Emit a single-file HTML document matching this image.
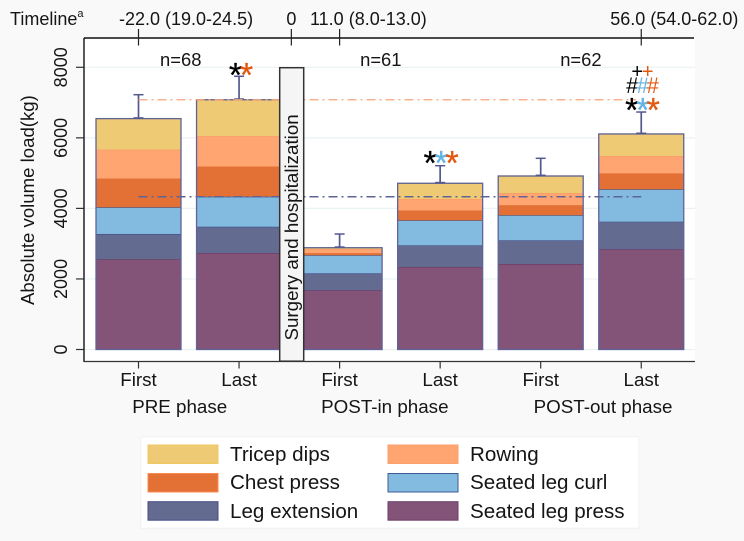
<!DOCTYPE html>
<html lang="en">
<head>
<meta charset="utf-8">
<title>Absolute volume load by phase</title>
<style>
html,body{margin:0;padding:0;background:#f9f9f9;}
svg{display:block;font-family:"Liberation Sans",sans-serif;fill:#111;}
text{font-size:18px;fill:#151515;}
.leg{font-size:20.6px;}
</style>
</head>
<body>
<svg id="chart" width="744" height="541" viewBox="0 0 744 541" xmlns="http://www.w3.org/2000/svg">
  <rect x="84" y="38" width="611" height="323.5" fill="#ffffff"/>
  <g id="grid"></g>
  <g id="bars"></g>
  <g id="refs"></g>
  <g id="axes"></g>
  <g>
    <rect x="279.7" y="67.7" width="24" height="293.5" fill="#f5f5f5" stroke="#333" stroke-width="1.5"/>
    <text transform="translate(298,340.5) rotate(-90)" style="font-size:18.75px">Surgery and hospitalization</text>
  </g>
  <g id="marks"></g>
  <text transform="translate(34,305) rotate(-90)" style="font-size:18.6px">Absolute volume load(kg)</text>
  <text x="10" y="25">Timeline<tspan dy="-8" style="font-size:11px">a</tspan></text>
  <g>
    <rect x="140.7" y="436.7" width="498.3" height="91.5" fill="#fff" stroke="#eef3f4"/>
    <rect x="148" y="445" width="70" height="18.5" fill="#eeca74" stroke="#f0c860"/>
    <text class="leg" x="230" y="461">Tricep dips</text>
    <rect x="388" y="445" width="70" height="18.5" fill="#fea572" stroke="#fd9f68"/>
    <text class="leg" x="470" y="461">Rowing</text>
    <rect x="148" y="473.5" width="70" height="18.5" fill="#e37035" stroke="#fb8a50"/>
    <text class="leg" x="230" y="489">Chest press</text>
    <rect x="388" y="473.5" width="70" height="18.5" fill="#82bae0" stroke="#3e5c94"/>
    <text class="leg" x="470" y="489">Seated leg curl</text>
    <rect x="148" y="501.7" width="70" height="18.5" fill="#646b90" stroke="#434b88"/>
    <text class="leg" x="230" y="518">Leg extension</text>
    <rect x="388" y="501.7" width="70" height="18.5" fill="#835378" stroke="#6b3e68"/>
    <text class="leg" x="470" y="518">Seated leg press</text>
  </g>
</svg>
<script>
// ---- chart data ----
var categories = ['First', 'Last', 'First', 'Last', 'First', 'Last'];
var seatedLegPress = [2557, 2735, 1678, 2340, 2424, 2840];
var legExtension   = [718, 745, 482, 613, 671, 783];
var seatedLegCurl  = [755, 850, 510, 707, 710, 917];
var chestPress     = [820, 860, 65, 285, 290, 455];
var rowing         = [815, 860, 115, 320, 342, 490];
var tricepDips     = [880, 1030, 35, 447, 481, 625];
var errorTops      = [7223, 7745, 3274, 5210, 5420, 6732];
var yTicks         = [0, 2000, 4000, 6000, 8000];
var refLineOrange  = 7080;
var refLinePurple  = 4330;
var timelineLabels = ['-22.0 (19.0-24.5)', '0', '11.0 (8.0-13.0)', '56.0 (54.0-62.0)'];
var timelineSlots  = [0, 1.52, 2, 5];
var phaseLabels    = ['PRE phase', 'POST-in phase', 'POST-out phase'];
var phaseSlots     = [0.41, 2.45, 4.62];
var sampleLabels   = ['n=68', 'n=61', 'n=62'];
var sampleSlots    = [0.42, 2.41, 4.4];

// ---- scales ----
function yScale(v){ return 349.5 - v * 70.55 / 2000; }
function xScale(i){ return 138.5 + i * 100.55; }
var barWidth = 85;
var timelineLabelShift = [-19.5, -5, -29.6, -31];

var NS = 'http://www.w3.org/2000/svg';
function make(tag, attrs, parent, txt){
  var n = document.createElementNS(NS, tag);
  for (var k in attrs) n.setAttribute(k, attrs[k]);
  if (txt !== undefined) n.textContent = txt;
  parent.appendChild(n);
  return n;
}
var gGrid = document.getElementById('grid');
var gBars = document.getElementById('bars');
var gRefs = document.getElementById('refs');
var gAxes = document.getElementById('axes');
var gMarks = document.getElementById('marks');

// gridlines + y axis ticks
yTicks.forEach(function(t){
  var g = make('line', {x1:84, x2:695, y1:yScale(t), y2:yScale(t), stroke:'#eaf2f4', 'stroke-width':1.2}, gGrid);
  
  
  var m = make('line', {x1:76, x2:84, y1:yScale(t), y2:yScale(t), stroke:'#333', 'stroke-width':1.2}, gAxes);
  
  
  var l = make('text', {transform:'translate(67,' + yScale(t) + ') rotate(-90)', 'text-anchor':'middle'}, gAxes, String(t));
  
  
});

// stacked bars
var stackSeries = [
  {values: seatedLegPress, fill:'#835378', edge:'#643a66'},
  {values: legExtension,   fill:'#646b90', edge:'#474e88'},
  {values: seatedLegCurl,  fill:'#82bae0', edge:'#3e5f98'},
  {values: chestPress,     fill:'#e37035', edge:'#ea7a40'},
  {values: rowing,         fill:'#fea572', edge:'#fb9a63'},
  {values: tricepDips,     fill:'#eeca74', edge:'#efc766'}
];
categories.forEach(function(c, i){
  var left = xScale(i) - barWidth / 2, base = 0;
  stackSeries.forEach(function(s){
    var top = base + s.values[i];
    var r = make('rect', {x:left, y:yScale(top), width:barWidth, height:yScale(base) - yScale(top), fill:s.fill}, gBars);
    
    
    var e = make('line', {x1:left, x2:left + barWidth, y1:yScale(top), y2:yScale(top), stroke:s.edge, 'stroke-width':1.2}, gBars);
    
    
    base = top;
  });
  var o = make('rect', {x:left, y:yScale(base), width:barWidth, height:yScale(0) - yScale(base), fill:'none', stroke:'#5f6398', 'stroke-width':1.3}, gBars);
  
  
  var cx = xScale(i);
  var st = make('line', {x1:cx, x2:cx, y1:yScale(base), y2:yScale(errorTops[i]), stroke:'#53588f', 'stroke-width':1.7}, gBars);
  
  
  var ct = make('line', {x1:cx - 5, x2:cx + 5, y1:yScale(errorTops[i]), y2:yScale(errorTops[i]), stroke:'#53588f', 'stroke-width':1.5}, gBars);
  
  
  var cb = make('line', {x1:cx - 5, x2:cx + 5, y1:yScale(base) - 0.7, y2:yScale(base) - 0.7, stroke:'#53588f', 'stroke-width':1.5}, gBars);
  
  
  // x tick + label
  var xt = make('line', {x1:cx, x2:cx, y1:361.5, y2:368.5, stroke:'#333', 'stroke-width':1.2}, gAxes);
  
  
  var xl = make('text', {x:cx, y:386, 'text-anchor':'middle'}, gAxes, c);
  
  
  xl.style.fontSize = '18.8px';
});

// reference lines
var r1 = make('line', {x1:xScale(0), x2:xScale(4.95), y1:yScale(refLineOrange), y2:yScale(refLineOrange), stroke:'#f9a47a', 'stroke-width':1.3, 'stroke-dasharray':'9 4 2 4'}, gRefs);


var r2 = make('line', {x1:xScale(0), x2:xScale(5), y1:yScale(refLinePurple), y2:yScale(refLinePurple), stroke:'#5f6496', 'stroke-width':1.4, 'stroke-dasharray':'9 4 2 4'}, gRefs);



// axes lines
var al = make('line', {x1:84, x2:84, y1:38, y2:362, stroke:'#222', 'stroke-width':1.5}, gAxes);


var ab = make('line', {x1:84, x2:695, y1:361.5, y2:361.5, stroke:'#333', 'stroke-width':1.2}, gAxes);


var at = make('line', {x1:84, x2:694, y1:38, y2:38, stroke:'#111', 'stroke-width':1.5}, gAxes);



// timeline ticks
timelineLabels.forEach(function(t, i){
  var tx = xScale(timelineSlots[i]);
  var tk = make('line', {x1:tx, x2:tx, y1:29, y2:45.5, stroke:'#222', 'stroke-width':1.2}, gAxes);
  
  
  var tl = make('text', {x:tx + timelineLabelShift[i], y:25}, gAxes, t);
  
  
});

// phase labels
phaseLabels.forEach(function(t, i){
  var pl = make('text', {x:xScale(phaseSlots[i]), y:413, 'text-anchor':'middle'}, gAxes, t);
  
  
  pl.style.fontSize = '18.8px';
});

// sample sizes
sampleLabels.forEach(function(t, i){
  var sl = make('text', {x:xScale(sampleSlots[i]), y:66, 'text-anchor':'middle'}, gAxes, t);
  
  
  sl.style.fontSize = '18.4px';
});

// significance symbols
var symbolBars    = [1, 1, 3, 3, 3, 5, 5, 5, 5, 5, 5, 5, 5];
var symbolGlyphs  = ['*', '*', '*', '*', '*', '*', '*', '*', '#', '#', '#', '+', '+'];
var symbolColours = ['#000', '#e2580f', '#000', '#62b2e2', '#e2580f', '#000', '#62b2e2', '#e2580f', '#000', '#62b2e2', '#e2580f', '#000', '#e2580f'];
var symbolOffsets = [-3.5, 7.5, -10, 1, 12, -9.5, 1.5, 12, -9, 1.5, 11.5, -4, 6.5];
var symbolHeights = [7450, 7450, 4960, 4960, 4960, 6460, 6460, 6460, 7270, 7270, 7270, 7700, 7700];
symbolGlyphs.forEach(function(g, i){
  var t = make('text', {x:xScale(symbolBars[i]) + symbolOffsets[i], y:yScale(symbolHeights[i]), 'text-anchor':'middle'}, gMarks, g);
  
  
  t.style.fontSize = (g === '*' ? 34 : (g === '#' ? 22 : 20)) + 'px';
  t.style.fill = symbolColours[i];
  if (g === '*') {
    t.style.stroke = symbolColours[i];
    t.style.strokeWidth = '0.3px';
  }
});
</script>
</body>
</html>
